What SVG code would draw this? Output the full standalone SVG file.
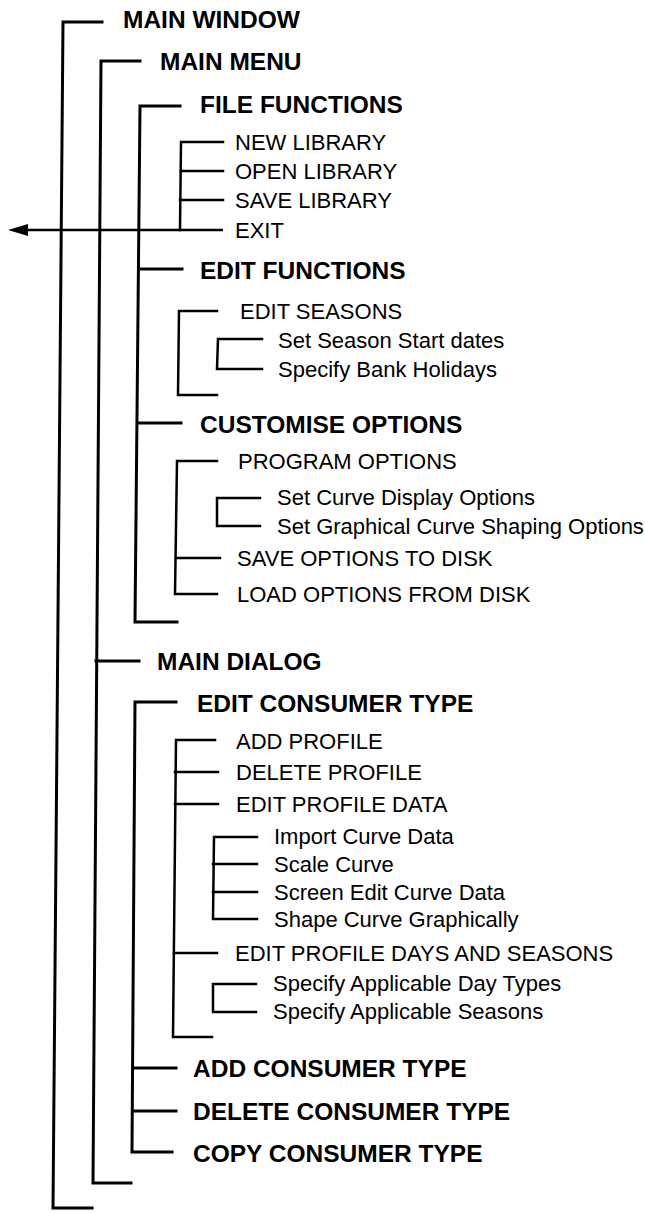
<svg xmlns="http://www.w3.org/2000/svg" width="645" height="1213" viewBox="0 0 645 1213">
<style>
.b{font-family:"Liberation Sans",Arial,sans-serif;font-weight:bold;font-size:24.5px;fill:#000}
.r{font-family:"Liberation Sans",Arial,sans-serif;font-size:22px;fill:#000}
.l3{stroke:#000;stroke-width:3;fill:none;stroke-linecap:square}
.l2{stroke:#000;stroke-width:2.5;fill:none;stroke-linecap:square}
</style>
<defs>
<marker id="ah" markerWidth="20" markerHeight="12" refX="0" refY="6" orient="auto" markerUnits="userSpaceOnUse" viewBox="0 0 20 12">
<path d="M0,0 L20,6 L0,12 Z" fill="#000"/>
</marker>
</defs>
<rect width="645" height="1213" fill="#fff"/>
<g id="connectors">
<polyline class="l3" points="102,22 63,22 53,1208 92,1208"/>
<polyline class="l3" points="140,61 101,61 93,1183 131,1183"/>
<line class="l3" x1="96" y1="661" x2="139" y2="661"/>
<polyline class="l3" points="180,106 140,106 135,622 177,622"/>
<line class="l3" x1="139" y1="269" x2="182" y2="269"/>
<line class="l3" x1="138" y1="423" x2="181" y2="423"/>
<polyline class="l3" points="176,702 135,702 132,1152 172,1152"/>
<line class="l3" x1="133" y1="1068" x2="176" y2="1068"/>
<line class="l3" x1="133" y1="1111" x2="176" y2="1111"/>
<polyline class="l2" points="223,142 181,142 180,230"/>
<line class="l2" x1="181" y1="171" x2="223" y2="171"/>
<line class="l2" x1="180" y1="200" x2="223" y2="200"/>
<line x1="223" y1="230" x2="28" y2="230" stroke="#000" stroke-width="2.5" marker-end="url(#ah)"/>
<polyline class="l2" points="217,311 179,311 178,395 217,395"/>
<polyline class="l2" points="262,339 218,339 217,369 262,369"/>
<polyline class="l2" points="217,461 177,461 175,594 217,594"/>
<line class="l2" x1="176" y1="558" x2="220" y2="558"/>
<polyline class="l2" points="260,498 217,498 217,526 260,526"/>
<polyline class="l2" points="215,740 176,740 173,1037 212,1037"/>
<line class="l2" x1="175" y1="772" x2="218" y2="772"/>
<line class="l2" x1="175" y1="804" x2="218" y2="804"/>
<line class="l2" x1="174" y1="953" x2="217" y2="953"/>
<polyline class="l2" points="257,837 214,837 213,919 257,919"/>
<line class="l2" x1="213" y1="864" x2="257" y2="864"/>
<line class="l2" x1="213" y1="892" x2="257" y2="892"/>
<polyline class="l2" points="256,984 213,984 213,1012 256,1012"/>
</g>
<g id="n-main-window"><text class="b" x="123" y="27.5">MAIN WINDOW</text></g>
<g id="n-main-menu"><text class="b" x="160" y="69.5">MAIN MENU</text></g>
<g id="n-file-functions"><text class="b" x="200" y="112.5">FILE FUNCTIONS</text></g>
<g id="n-new-library"><text class="r" x="235" y="150">NEW LIBRARY</text></g>
<g id="n-open-library"><text class="r" x="235" y="179">OPEN LIBRARY</text></g>
<g id="n-save-library"><text class="r" x="235" y="208">SAVE LIBRARY</text></g>
<g id="n-exit"><text class="r" x="235" y="238">EXIT</text></g>
<g id="n-edit-functions"><text class="b" x="200" y="278.5">EDIT FUNCTIONS</text></g>
<g id="n-edit-seasons"><text class="r" x="240" y="319">EDIT SEASONS</text></g>
<g id="n-set-season"><text class="r" x="278" y="348">Set Season Start dates</text></g>
<g id="n-bank-holidays"><text class="r" x="278" y="377">Specify Bank Holidays</text></g>
<g id="n-customise"><text class="b" x="200" y="432.5">CUSTOMISE OPTIONS</text></g>
<g id="n-program-options"><text class="r" x="238" y="469">PROGRAM OPTIONS</text></g>
<g id="n-curve-display"><text class="r" x="277" y="505">Set Curve Display Options</text></g>
<g id="n-curve-shaping"><text class="r" x="277" y="534">Set Graphical Curve Shaping Options</text></g>
<g id="n-save-options"><text class="r" x="237" y="566">SAVE OPTIONS TO DISK</text></g>
<g id="n-load-options"><text class="r" x="237" y="602">LOAD OPTIONS FROM DISK</text></g>
<g id="n-main-dialog"><text class="b" x="157" y="669.5">MAIN DIALOG</text></g>
<g id="n-edit-consumer"><text class="b" x="197" y="711.5">EDIT CONSUMER TYPE</text></g>
<g id="n-add-profile"><text class="r" x="236" y="749">ADD PROFILE</text></g>
<g id="n-delete-profile"><text class="r" x="236" y="780">DELETE PROFILE</text></g>
<g id="n-edit-profile-data"><text class="r" x="236" y="812">EDIT PROFILE DATA</text></g>
<g id="n-import-curve"><text class="r" x="274" y="844">Import Curve Data</text></g>
<g id="n-scale-curve"><text class="r" x="274" y="872">Scale Curve</text></g>
<g id="n-screen-edit"><text class="r" x="274" y="900">Screen Edit Curve Data</text></g>
<g id="n-shape-curve"><text class="r" x="274" y="927">Shape Curve Graphically</text></g>
<g id="n-edit-days-seasons"><text class="r" x="235" y="961">EDIT PROFILE DAYS AND SEASONS</text></g>
<g id="n-day-types"><text class="r" x="273" y="991">Specify Applicable Day Types</text></g>
<g id="n-app-seasons"><text class="r" x="273" y="1019">Specify Applicable Seasons</text></g>
<g id="n-add-consumer"><text class="b" x="193" y="1076.5">ADD CONSUMER TYPE</text></g>
<g id="n-delete-consumer"><text class="b" x="193" y="1119.5">DELETE CONSUMER TYPE</text></g>
<g id="n-copy-consumer"><text class="b" x="193" y="1161.5">COPY CONSUMER TYPE</text></g>
</svg>
